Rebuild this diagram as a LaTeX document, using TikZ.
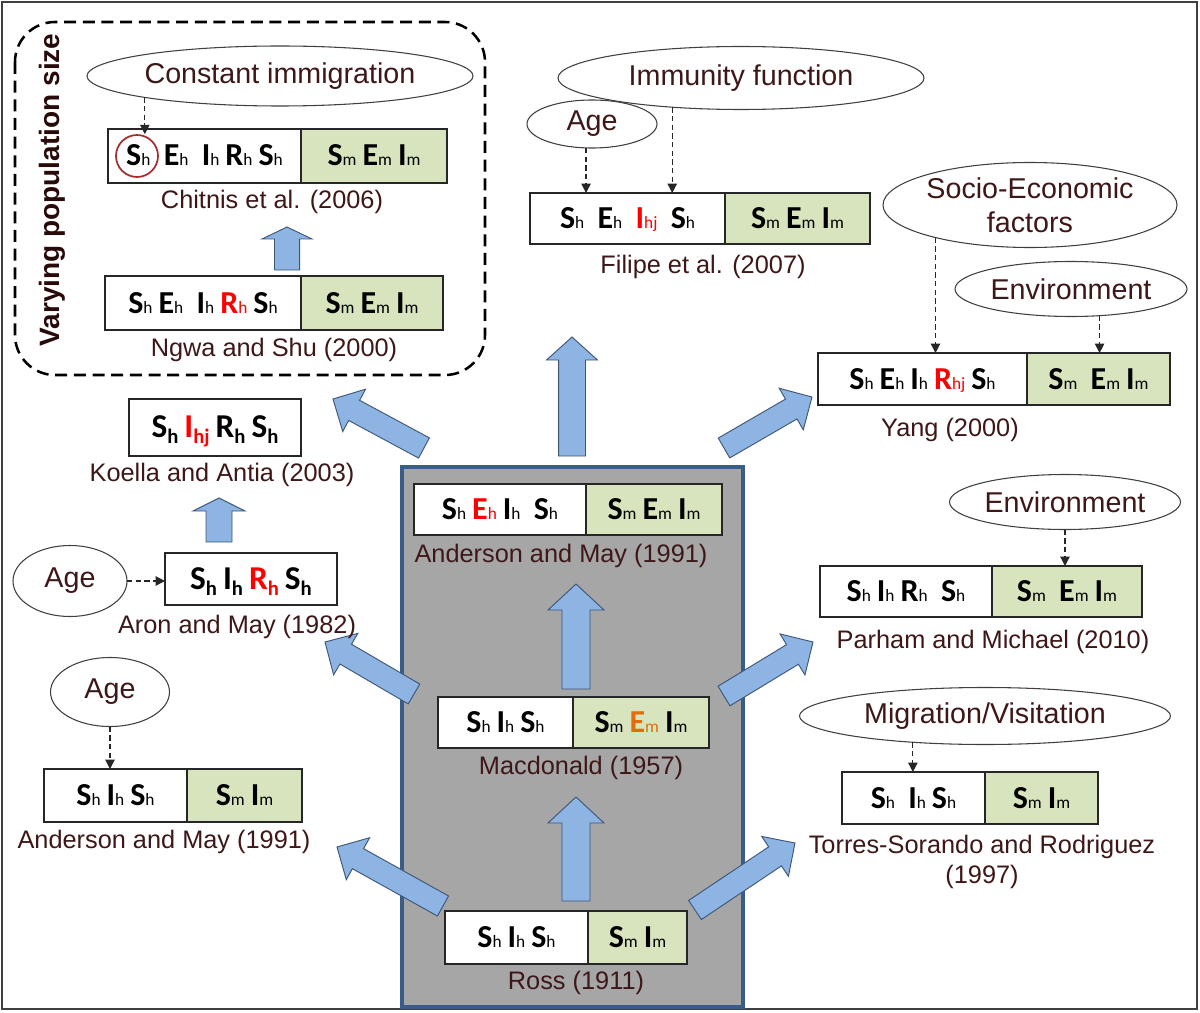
\documentclass[tikz,border=0pt]{standalone}
\usepackage{fontspec}
\setmainfont{Liberation Sans}
\newfontfamily\cfont{Carlito}
\usetikzlibrary{arrows.meta,calc,shapes.geometric}

\definecolor{capc}{RGB}{62,24,24}
\definecolor{grn}{RGB}{215,228,189}
\definecolor{arrf}{RGB}{142,180,227}
\definecolor{arrd}{RGB}{62,86,120}
\definecolor{gbox}{RGB}{166,166,166}
\definecolor{gboxd}{RGB}{56,93,138}
\definecolor{orng}{RGB}{228,108,10}
\definecolor{circc}{RGB}{165,45,45}

\newcommand\cA[2]{{\fontsize{24}{24}\selectfont\bfseries #1}{\fontsize{13}{13}\selectfont #2}}
\newcommand\cB[2]{{\fontsize{25}{25}\selectfont\bfseries #1}\raisebox{-4.5pt}{\fontsize{15.5}{15.5}\selectfont\bfseries #2}}
\newcommand\cs{\hspace{4.5pt}}
\newcommand\cw{\hspace{10pt}}
\newcommand\rd[1]{\textcolor{red}{#1}}

\newcommand\barrow[5]{%
  \coordinate (bA) at ($(#2)!#5!(#1)$);
  \filldraw[barr] ($(#1)!#3!90:(#2)$) -- ($(bA)!#3!90:(#2)$) -- ($(bA)!#4!90:(#2)$) -- (#2) -- ($(bA)!#4!-90:(#2)$) -- ($(bA)!#3!-90:(#2)$) -- ($(#1)!#3!-90:(#2)$) -- cycle;}

\begin{document}
\begin{tikzpicture}[x=0.75pt,y=-0.75pt,
  lbox/.style 2 args={draw=black!85, line width=1.1pt, fill=white, inner sep=0pt, outer sep=0pt, anchor=north west, minimum width=#1*0.75pt, minimum height=#2*0.75pt, font=\cfont, text height=15pt, text depth=0pt},
  rbox/.style 2 args={lbox={#1}{#2}, fill=grn},
  captxt/.style={font=\fontsize{19}{19}\selectfont, text=capc, inner sep=0pt},
  ell/.style={ellipse, draw=black!75, line width=0.8pt, inner sep=0pt, outer sep=0pt, font=\fontsize{21.5}{21.5}\selectfont, text=capc, align=center},
  darr/.style={draw=black!85, line width=0.9pt, dash pattern=on 4pt off 2.5pt, -{Triangle[length=7pt,width=7pt]}},
  barr/.style={fill=arrf, draw=arrd, line width=0.7pt, line join=miter},
]
\useasboundingbox (0,0) rectangle (1200,1013);
\fill[white] (0,0) rectangle (1200,1013);

% outer frame
\draw[line width=1.5pt, draw=black!75] (2,2) rectangle (1197,1009);

% varying population region
\draw[line width=1.9pt, dash pattern=on 9pt off 5pt, rounded corners=30pt] (15,22) rectangle (485,375);
\node[rotate=90, font=\fontsize{21}{21}\selectfont\bfseries, text={rgb,255:red,40;green,10;blue,10}] (vps) at (52,190) {Varying population size};

% core gray panel
\node[fill=gbox, draw=gboxd, line width=3pt, anchor=north west, minimum width=341*0.75pt, minimum height=540*0.75pt, inner sep=0pt] (core) at (400,465) {};

% block arrows
\coordinate (t1) at (287,270); \coordinate (h1) at (287,227);
\barrow{t1}{h1}{9.4pt}{18.75pt}{9pt}
\coordinate (t2) at (219,542); \coordinate (h2) at (219,498);
\barrow{t2}{h2}{9.75pt}{19.5pt}{9.75pt}
\coordinate (t3) at (572,456); \coordinate (h3) at (572,337);
\barrow{t3}{h3}{10.1pt}{19.1pt}{17.25pt}
\coordinate (t4) at (576,689); \coordinate (h4) at (576,584);
\barrow{t4}{h4}{10.5pt}{21pt}{19.5pt}
\coordinate (t5) at (576,901); \coordinate (h5) at (576,797);
\barrow{t5}{h5}{10.5pt}{21pt}{19.5pt}
\coordinate (t6) at (424,448); \coordinate (h6) at (333,399);
\barrow{t6}{h6}{8.6pt}{18pt}{18pt}
\coordinate (t7) at (724,448); \coordinate (h7) at (812,397);
\barrow{t7}{h7}{8.6pt}{18pt}{18pt}
\coordinate (t8) at (414,694); \coordinate (h8) at (325,642);
\barrow{t8}{h8}{8.6pt}{18pt}{18pt}
\coordinate (t9) at (724,696); \coordinate (h9) at (813,642);
\barrow{t9}{h9}{8.6pt}{18pt}{18pt}
\coordinate (t10) at (443,906); \coordinate (h10) at (337,847);
\barrow{t10}{h10}{8.6pt}{18pt}{18pt}
\coordinate (t11) at (695,910); \coordinate (h11) at (795,843);
\barrow{t11}{h11}{8.6pt}{18pt}{18pt}

% ---- model boxes ----
% Chitnis
\node[lbox={193}{54}] (chL) at (108,129) {\cA{S}{h}\cw\cA{E}{h}\cw\cA{I}{h}\cs\cA{R}{h}\cs\cA{S}{h}};
\node[rbox={146}{54}] (chR) at (chL.north east) {\cA{S}{m}\cs\cA{E}{m}\cs\cA{I}{m}};
\node[circle, draw=circc, line width=1.3pt, minimum size=42*0.75pt, inner sep=0pt] (circ) at (137,156) {};
\node[captxt] (chC) at (272,202) {Chitnis et al. (2006)};
% Ngwa
\node[lbox={196}{54}] (ngL) at (105,276) {\cA{S}{h}\cs\cA{E}{h}\cw\cA{I}{h}\cs\rd{\cA{R}{h}}\cs\cA{S}{h}};
\node[rbox={142}{54}] (ngR) at (ngL.north east) {\cA{S}{m}\cs\cA{E}{m}\cs\cA{I}{m}};
\node[captxt] (ngC) at (274,350) {Ngwa and Shu (2000)};
% Filipe
\node[lbox={195}{51}] (filL) at (530,193) {\cA{S}{h}\cw\cA{E}{h}\cw\rd{\cA{I}{hj}}\cw\cA{S}{h}};
\node[rbox={145}{51}] (filR) at (filL.north east) {\cA{S}{m}\cs\cA{E}{m}\cs\cA{I}{m}};
\node[captxt] (filC) at (703,267) {Filipe et al. (2007)};
% Yang
\node[lbox={209}{52}] (yangL) at (818,353) {\cA{S}{h}\cs\cA{E}{h}\cs\cA{I}{h}\cs\rd{\cA{R}{hj}}\cs\cA{S}{h}};
\node[rbox={143}{52}] (yangR) at (yangL.north east) {\cA{S}{m}\cw\cA{E}{m}\cs\cA{I}{m}};
\node[captxt] (yangC) at (950,430) {Yang (2000)};
% Parham
\node[lbox={172}{51}] (parL) at (820,566) {\cA{S}{h}\cs\cA{I}{h}\cs\cA{R}{h}\cw\cA{S}{h}};
\node[rbox={150}{51}] (parR) at (parL.north east) {\cA{S}{m}\cw\cA{E}{m}\cs\cA{I}{m}};
\node[captxt] (parC) at (993,642) {Parham and Michael (2010)};
% Torres
\node[lbox={143}{52}] (torL) at (842,772) {\cA{S}{h}\cw\cA{I}{h}\cs\cA{S}{h}};
\node[rbox={113}{52}] (torR) at (torL.north east) {\cA{S}{m}\cs\cA{I}{m}};
\node[captxt] (torC) at (982,847) {Torres-Sorando and Rodriguez};
\node[captxt] (torC2) at (982,877) {(1997)};
% Anderson left
\node[lbox={143}{53}] (amL) at (44,769) {\cA{S}{h}\cs\cA{I}{h}\cs\cA{S}{h}};
\node[rbox={115}{53}] (amR) at (amL.north east) {\cA{S}{m}\cs\cA{I}{m}};
\node[captxt] (amC) at (164,842) {Anderson and May (1991)};
% Koella
\node[lbox={172}{57}] (koe) at (129,399) {\cB{S}{h}\cs\rd{\cB{I}{hj}}\cs\cB{R}{h}\cs\cB{S}{h}};
\node[captxt] (koeC) at (222,475) {Koella and Antia (2003)};
% Aron
\node[lbox={172}{52}] (aron) at (165,553) {\cB{S}{h}\cs\cB{I}{h}\cs\rd{\cB{R}{h}}\cs\cB{S}{h}};
\node[captxt] (aronC) at (237,627) {Aron and May (1982)};
% Anderson center
\node[lbox={172}{51}] (acL) at (414,484) {\cA{S}{h}\cs\rd{\cA{E}{h}}\cs\cA{I}{h}\cw\cA{S}{h}};
\node[rbox={136}{51}] (acR) at (acL.north east) {\cA{S}{m}\cs\cA{E}{m}\cs\cA{I}{m}};
\node[captxt] (acC) at (561,556) {Anderson and May (1991)};
% Macdonald
\node[lbox={135}{51}] (maL) at (438,697) {\cA{S}{h}\cs\cA{I}{h}\cs\cA{S}{h}};
\node[rbox={136}{51}] (maR) at (maL.north east) {\cA{S}{m}\cs\textcolor{orng}{\cA{E}{m}}\cs\cA{I}{m}};
\node[captxt] (maC) at (581,768) {Macdonald (1957)};
% Ross
\node[lbox={143}{53}] (roL) at (445,911) {\cA{S}{h}\cs\cA{I}{h}\cs\cA{S}{h}};
\node[rbox={99}{53}] (roR) at (roL.north east) {\cA{S}{m}\cs\cA{I}{m}};
\node[captxt] (roC) at (576,983) {Ross (1911)};

% ---- factor ellipses ----
\node[ell, minimum width=386*0.75pt, minimum height=60*0.75pt] (imm) at (280,76) {Constant immigration};
\node[ell, minimum width=366*0.75pt, minimum height=63*0.75pt] (immf) at (741,78) {Immunity function};
\node[ell, minimum width=130*0.75pt, minimum height=48*0.75pt] (ageF) at (592,124) {Age};
\node[ell, minimum width=294*0.75pt, minimum height=85*0.75pt, inner ysep=-4pt, font=\fontsize{21.5}{25.5}\selectfont] (socio) at (1030,205) {Socio-Economic\\factors};
\node[ell, minimum width=232*0.75pt, minimum height=55*0.75pt] (envY) at (1071,289) {Environment};
\node[ell, minimum width=231*0.75pt, minimum height=55*0.75pt] (envP) at (1065,502) {Environment};
\node[ell, minimum width=371*0.75pt, minimum height=57*0.75pt] (migr) at (985,716) {Migration/Visitation};
\node[ell, minimum width=114*0.75pt, minimum height=71*0.75pt] (ageA) at (70,581) {Age};
\node[ell, minimum width=119*0.75pt, minimum height=69*0.75pt] (ageL) at (110,692) {Age};

% ---- dashed influence arrows ----
\draw[darr] (imm.-171.7) -- (imm.-171.7 |- circ.north);
\draw[darr] (ageF.-104) -- (ageF.-104 |- filL.north);
\draw[darr] (immf.-157.8) -- (immf.-157.8 |- filL.north);
\draw[darr] (socio.-161.5) -- (socio.-161.5 |- yangL.north);
\draw[darr] (envY.-43.6) -- (envY.-43.6 |- yangR.north);
\draw[darr] (envP.south) -- (envP.south |- parR.north);
\draw[darr] (migr.-160.3) -- (migr.-160.3 |- torL.north);
\draw[darr] (ageL.south) -- (ageL.south |- amL.north);
\draw[darr] (ageA.east) -- (ageA.east -| aron.west);
\end{tikzpicture}
\end{document}
